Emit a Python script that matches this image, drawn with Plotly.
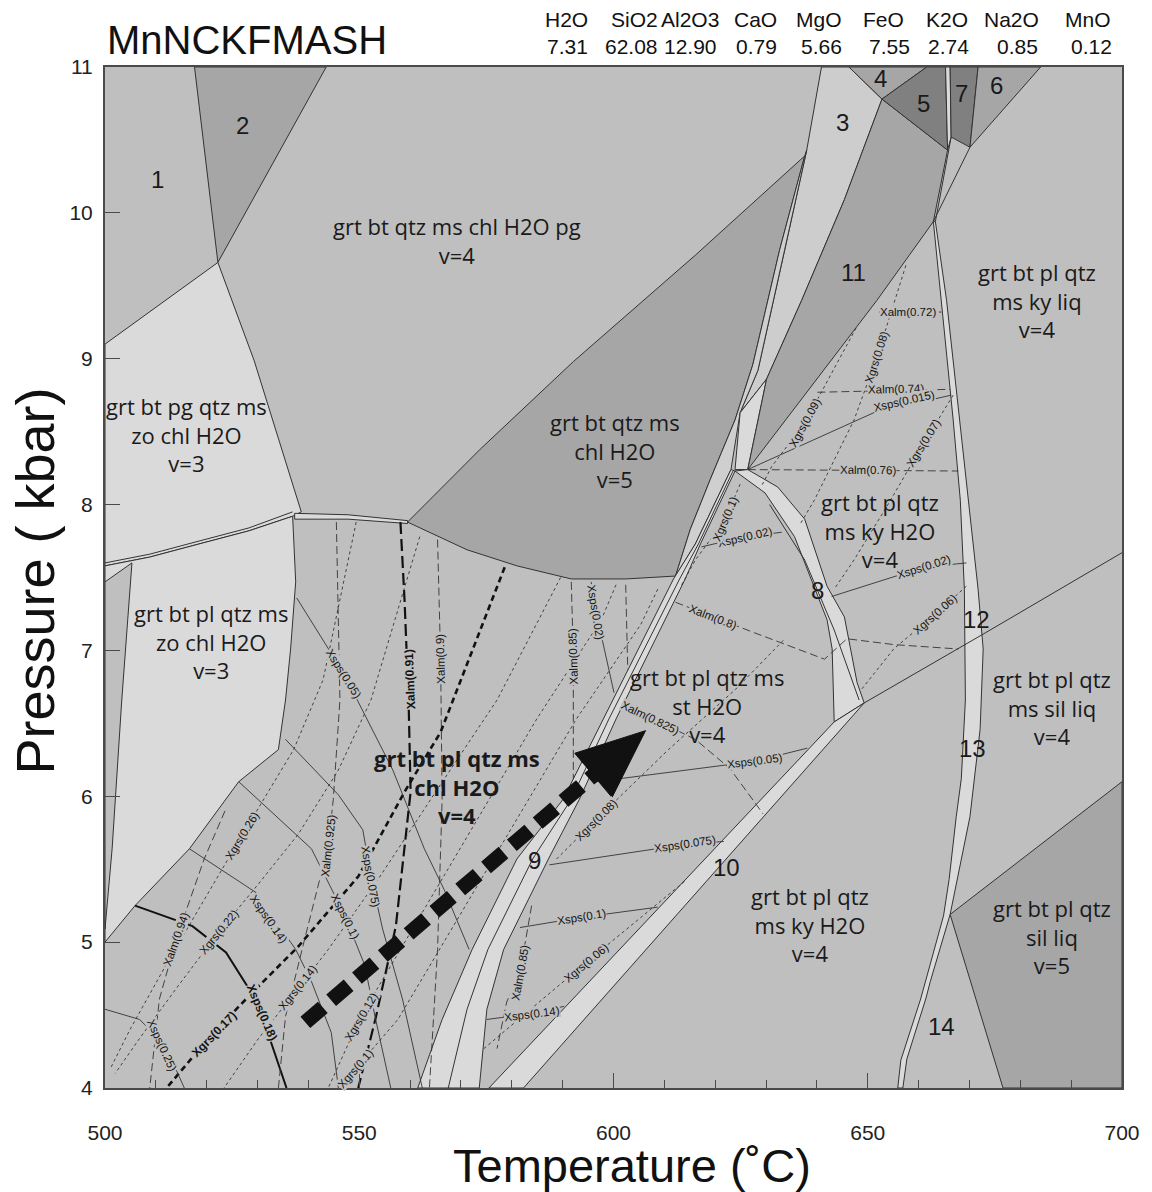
import math
import plotly.graph_objects as go

# ---------------- data ----------------
OXIDES = ["H2O", "SiO2", "Al2O3", "CaO", "MgO", "FeO", "K2O", "Na2O", "MnO"]
OXIDE_WT = ["7.31", "62.08", "12.90", "0.79", "5.66", "7.55", "2.74", "0.85", "0.12"]

T_RANGE = [500, 700]
P_RANGE = [4, 11]
T_TICKS = [500, 550, 600, 650, 700]
P_TICKS = [4, 5, 6, 7, 8, 9, 10, 11]

# phase-field polygons (T in C, P in kbar)
FIELD_2 = [(517.6, 11.0), (543.5, 11.0), (522.2, 9.66)]
FIELD_PG_ZO = [(500, 9.10), (522.2, 9.66), (529.3, 8.99), (534.1, 8.45), (538.6, 7.95),
               (536.9, 7.92), (528.3, 7.82), (518.5, 7.73), (508.8, 7.64), (500, 7.58)]
FIELD_PL_ZO = [(500, 7.58), (508.8, 7.64), (518.5, 7.73), (528.3, 7.82), (536.9, 7.92),
               (537.5, 7.47), (536.5, 7.01), (535.5, 6.66), (534.1, 6.32), (526.3, 6.10),
               (516.6, 5.64), (505.9, 5.25), (500, 5.00)]
FIELD_LEFT_STRIP = [(500, 7.47), (505.3, 7.60), (503.3, 6.66), (501.4, 5.64), (500, 5.09)]
SLIVER_TOP = [(537.3, 7.94), (547.8, 7.93), (559.5, 7.89), (559.5, 7.87), (547.8, 7.90), (537.3, 7.90)]
FIELD_V5 = [(559.5, 7.88), (573.8, 8.38), (592.1, 8.98), (616.1, 9.71), (637.6, 10.39),
            (632.7, 9.75), (627.4, 8.96), (623.9, 8.58), (619.0, 8.17), (615.1, 7.83),
            (612.2, 7.51), (602.4, 7.49), (591.7, 7.49), (581.0, 7.58), (571.2, 7.69)]
FIELD_3 = [(640.9, 11.0), (638.0, 10.43), (633.7, 9.75), (628.4, 8.92), (624.9, 8.63),
           (630.1, 8.86), (637.0, 9.40), (645.4, 10.09), (652.8, 10.78), (646.3, 11.0)]
WEDGE_3 = [(624.9, 8.63), (630.1, 8.86), (626.4, 8.24), (623.9, 8.24)]
SLIVER_A = [(637.6, 10.39), (632.7, 9.75), (627.4, 8.96), (623.9, 8.58), (619.0, 8.17),
            (615.1, 7.83), (612.2, 7.51), (616.1, 7.73), (623.1, 8.24), (624.9, 8.63),
            (628.4, 8.92), (633.7, 9.75), (638.0, 10.43)]
FIELD_11 = [(652.8, 10.78), (665.7, 10.43), (662.9, 9.94), (651.8, 9.40), (626.4, 8.24),
            (630.1, 8.86), (637.0, 9.40), (645.4, 10.09)]
FIELD_4 = [(646.3, 11.0), (661.6, 11.0), (652.8, 10.78)]
FIELD_5 = [(652.8, 10.78), (661.6, 11.0), (665.3, 11.0), (665.7, 10.43)]
SLIVER_B = [(665.3, 11.0), (666.2, 11.0), (666.4, 10.52), (665.7, 10.43)]
FIELD_7 = [(666.2, 11.0), (671.7, 11.0), (670.1, 10.45), (666.4, 10.52)]
FIELD_6 = [(671.7, 11.0), (684.0, 11.0), (670.1, 10.45)]
BAND_8 = [(623.9, 8.23), (629.8, 8.08), (635.6, 7.78), (638.9, 7.49), (642.0, 7.21),
          (643.0, 7.01), (643.4, 6.51), (649.3, 6.64), (647.9, 6.78), (645.4, 7.23),
          (642.0, 7.44), (637.6, 7.90), (632.3, 8.12), (626.4, 8.24)]
BAND_10 = [(643.4, 6.51), (649.3, 6.64), (582.3, 4.0), (575.5, 4.0)]
BAND_12 = [(662.9, 9.94), (664.5, 9.40), (666.8, 8.58), (668.2, 8.03), (669.0, 7.42),
           (669.2, 6.66), (668.4, 6.12), (667.4, 5.86), (666.0, 5.43), (664.9, 5.18),
           (660.4, 4.61), (656.5, 4.19), (655.9, 4.0), (656.9, 4.0), (657.7, 4.20),
           (661.4, 4.61), (662.3, 4.73), (666.2, 5.19), (670.1, 5.86), (672.1, 6.46),
           (672.7, 7.01), (671.7, 7.42), (669.8, 8.03), (668.0, 8.58), (665.5, 9.40),
           (663.3, 9.94)]
FIELD_SIL_V5 = [(666.2, 5.19), (700, 6.10), (700, 4.0), (676.6, 4.0)]
BAND_9 = [(623.1, 8.24), (616.1, 7.73), (611.8, 7.49), (597.9, 6.53), (590.1, 5.98),
          (581.0, 5.57), (572.2, 4.95), (566.3, 4.47), (561.5, 4.0), (573.6, 4.0),
          (575.1, 4.54), (578.4, 4.95), (587.2, 5.57), (593.3, 5.98), (600.5, 6.53),
          (614.1, 7.49), (617.1, 7.73), (623.9, 8.23)]

# extra field boundaries
LINE_KY_SIL = [(649.3, 6.64), (673.1, 7.12), (700, 7.67)]
LINE_PL_IN = [(500, 7.60), (508.8, 7.66), (518.5, 7.75), (528.3, 7.84), (536.9, 7.95)]
LINE_B9_IN = [(623.5, 8.23), (616.7, 7.73), (613.0, 7.49), (599.1, 6.53), (591.7, 5.98),
              (584.1, 5.57), (575.3, 4.95), (571.2, 4.54), (567.5, 4.0)]
LINE_B8_IN = [(630.7, 8.00), (637.6, 7.62), (643.4, 7.14), (648.3, 6.66)]
LINE_TRI_A = [(666.4, 10.52), (663.3, 9.94)]
LINE_TRI_B = [(670.1, 10.45), (662.9, 9.94)]

# isopleths
ISO_ALM_072 = [(652.2, 9.32), (664.5, 9.32)]
ISO_GRS_008U = [(657.5, 9.64), (651.8, 9.01), (647.3, 8.58), (639.5, 8.03), (636.6, 7.86)]
ISO_ALM_074 = [(640.1, 8.77), (666.2, 8.79)]
ISO_GRS_009 = [(647.7, 9.21), (637.6, 8.56), (631.1, 8.26), (629.0, 8.12)]
ISO_SPS_0015 = [(626.4, 8.24), (651.2, 8.63), (666.4, 8.75)]
ISO_GRS_007 = [(666.8, 8.75), (661.0, 8.42), (653.8, 7.99), (647.3, 7.62), (643.4, 7.42)]
ISO_ALM_076 = [(626.4, 8.24), (667.8, 8.23)]
ISO_SPS_002R = [(642.9, 7.37), (661.0, 7.57), (669.4, 7.60)]
ISO_GRS_006U = [(669.4, 7.44), (663.3, 7.25), (655.1, 7.01), (648.7, 6.73)]
ISO_ALM_080 = [(612.2, 7.33), (619.6, 7.23), (627.8, 7.12), (641.5, 6.94), (645.9, 7.08),
               (655.1, 7.04), (667.8, 7.01)]
ISO_SPS_002L = [(617.3, 7.71), (625.9, 7.78), (633.1, 7.81)]
ISO_GRS_010U = [(624.9, 8.14), (622.0, 7.90), (616.1, 7.62), (613.4, 7.45)]
ISO_ALM_0825 = [(602.0, 6.63), (607.3, 6.54), (616.1, 6.39), (622.9, 6.19), (629.4, 5.88)]
ISO_SPS_005S = [(596.6, 6.10), (612.2, 6.17), (627.8, 6.24), (638.1, 6.33)]
ISO_GRS_008S = [(588.8, 5.57), (596.6, 5.84), (610.8, 6.32), (623.9, 6.73), (633.7, 7.08)]
ISO_SPS_0075S = [(587.4, 5.53), (614.1, 5.67), (621.7, 5.69)]
ISO_SPS_010S = [(581.6, 5.10), (593.7, 5.17), (608.7, 5.24)]
ISO_GRS_006S = [(574.5, 4.27), (594.6, 4.86), (614.1, 5.42)]
ISO_SPS_014S = [(575.1, 4.47), (583.9, 4.51), (590.3, 4.56)]
ISO_ALM_085S = [(583.9, 5.25), (581.6, 4.79), (579.0, 4.59), (577.1, 4.27)]
ISO_ALM_090 = [(565.4, 7.76), (566.0, 6.94), (566.3, 5.98), (565.4, 4.95), (563.8, 4.0)]
ISO_ALM_085C = [(591.7, 7.47), (592.1, 6.96), (592.1, 6.12)]
ISO_SPS_002C = [(595.6, 7.47), (596.6, 7.26), (600.1, 6.71)]
ISO_ALM_X = [(602.4, 7.45), (602.8, 6.87)]
ISO_ALM_091 = [(558.1, 7.88), (558.9, 7.35), (559.7, 6.66), (560.1, 6.03), (557.2, 5.11),
               (555.6, 4.86), (553.3, 4.49), (549.8, 4.0)]
ISO_GRS_017 = [(578.6, 7.57), (566.0, 6.44), (558.9, 6.03), (549.8, 5.45), (538.0, 4.97),
               (528.3, 4.63), (521.1, 4.37), (512.1, 4.0)]
ISO_SPS_018 = [(505.9, 5.25), (517.2, 5.11), (523.8, 4.93), (528.3, 4.68), (532.2, 4.36),
               (535.7, 4.0)]
ISO_SPS_025 = [(500, 4.54), (506.8, 4.47), (511.7, 4.30), (515.6, 4.0)]
ISO_SPS_014C = [(516.6, 5.64), (529.7, 5.34), (537.5, 4.95), (540.6, 4.73), (544.5, 4.38),
                (545.9, 4.0)]
ISO_SPS_010C = [(526.3, 6.10), (540.6, 5.64), (547.2, 5.18), (551.1, 4.84), (553.1, 4.49),
                (556.2, 4.0)]
ISO_SPS_0075C = [(535.5, 6.39), (545.9, 6.01), (550.7, 5.77), (552.3, 5.45), (554.6, 5.09),
                 (558.5, 4.61), (562.4, 4.0)]
ISO_SPS_005C = [(537.7, 7.36), (547.0, 6.84), (556.6, 6.18), (562.8, 5.64), (566.7, 5.36),
                (571.6, 4.95)]
ISO_ALM_0925 = [(545.5, 7.88), (546.2, 6.66), (544.9, 5.98), (543.9, 5.66), (539.4, 5.04),
                (535.5, 4.49), (534.1, 4.0)]
ISO_ALM_094 = [(523.6, 5.90), (519.5, 5.57), (514.0, 5.02), (510.7, 4.61), (508.8, 4.0)]
ISO_GRS_026 = [(549.4, 7.88), (542.9, 6.80), (537.1, 6.32), (526.9, 5.73), (519.5, 5.29),
               (512.1, 4.85), (504.9, 4.40), (501.0, 4.13)]
ISO_GRS_022 = [(561.9, 7.78), (552.3, 6.66), (545.9, 6.18), (538.0, 5.74), (530.2, 5.40),
               (522.4, 5.07), (514.6, 4.71), (506.8, 4.34), (502.0, 4.10)]
ISO_GRS_014 = [(589.6, 7.50), (577.1, 6.66), (565.4, 6.05), (553.7, 5.43), (543.9, 4.95),
               (538.6, 4.71), (530.2, 4.34), (523.4, 4.0)]
ISO_GRS_012 = [(600.5, 7.45), (597.6, 7.21), (584.9, 6.53), (573.2, 5.84), (561.5, 5.16),
               (550.3, 4.49), (543.9, 4.0)]
ISO_GRS_010C = [(608.7, 7.42), (605.4, 7.18), (592.7, 6.53), (581.0, 5.84), (569.3, 5.16),
                (557.6, 4.47), (549.2, 4.13), (546.8, 4.0)]

# P-T path (start -> arrow tip)
PATH_T = [539.4, 606.3]
PATH_P = [4.45, 6.45]

# ---------------- styling ----------------
W, H = 1152, 1192
ML, MR, MT, MB = 105, 22, 67, 104
PW, PH = W - ML - MR, H - MT - MB
KX = PW / (T_RANGE[1] - T_RANGE[0])
KY = PH / (P_RANGE[1] - P_RANGE[0])

C_MID = "#bfbfbf"
C_LIGHT = "#dadada"
C_DARK = "#a6a6a6"
C_DARKEST = "#808080"
C_F3 = "#cdcdcd"
EDGE = "#333333"
ISO = "#333333"

LABEL_FONT = "Open Sans, Noto Sans, sans-serif"
ARIAL = "Liberation Sans, Arial, sans-serif"

fields = [
    (FIELD_2, C_DARK), (FIELD_PG_ZO, C_LIGHT), (FIELD_PL_ZO, C_LIGHT),
    (FIELD_LEFT_STRIP, C_MID), (SLIVER_TOP, C_LIGHT), (FIELD_V5, C_DARK),
    (FIELD_3, C_F3), (SLIVER_A, "#cfcfcf"), (WEDGE_3, C_LIGHT), (FIELD_11, C_DARK),
    (FIELD_4, C_DARK), (FIELD_5, C_DARKEST), (SLIVER_B, C_LIGHT), (FIELD_7, C_DARKEST),
    (FIELD_6, C_DARK), (BAND_8, C_LIGHT), (BAND_10, C_LIGHT), (BAND_12, C_LIGHT),
    (FIELD_SIL_V5, C_DARK), (BAND_9, C_LIGHT),
]
boundaries = [LINE_KY_SIL, LINE_PL_IN, LINE_B9_IN, LINE_B8_IN, LINE_TRI_A, LINE_TRI_B]

ALM = dict(dash="8px,4px", width=0.9, color=ISO)
GRS = dict(dash="3px,3px", width=0.9, color=ISO)
SPS = dict(dash="solid", width=0.9, color=ISO)
ALM_B = dict(dash="12px,5px", width=2.2, color="#111111")
GRS_B = dict(dash="6px,4px", width=2.6, color="#111111")
SPS_B = dict(dash="solid", width=2.0, color="#111111")

# (points, style, label, label T, label P, bold, flip)
isopleths = [
    (ISO_ALM_072, ALM, "Xalm(0.72)", 658.0, 9.32, False, False),
    (ISO_GRS_008U, GRS, "Xgrs(0.08)", 651.8, 9.01, False, False),
    (ISO_ALM_074, ALM, "Xalm(0.74)", 655.5, 8.79, False, False),
    (ISO_GRS_009, GRS, "Xgrs(0.09)", 637.6, 8.56, False, False),
    (ISO_SPS_0015, SPS, "Xsps(0.015)", 657.1, 8.71, False, False),
    (ISO_GRS_007, GRS, "Xgrs(0.07)", 661.0, 8.42, False, False),
    (ISO_ALM_076, ALM, "Xalm(0.76)", 650.0, 8.24, False, False),
    (ISO_SPS_002R, SPS, "Xsps(0.02)", 661.0, 7.57, False, False),
    (ISO_GRS_006U, GRS, "Xgrs(0.06)", 663.3, 7.25, False, False),
    (ISO_ALM_080, ALM, "Xalm(0.8)", 619.6, 7.23, False, False),
    (ISO_SPS_002L, SPS, "Xsps(0.02)", 625.9, 7.78, False, False),
    (ISO_GRS_010U, GRS, "Xgrs(0.1)", 622.0, 7.90, False, False),
    (ISO_ALM_0825, ALM, "Xalm(0.825)", 607.3, 6.54, False, False),
    (ISO_SPS_005S, SPS, "Xsps(0.05)", 627.8, 6.24, False, False),
    (ISO_GRS_008S, GRS, "Xgrs(0.08)", 596.6, 5.84, False, False),
    (ISO_SPS_0075S, SPS, "Xsps(0.075)", 614.1, 5.67, False, False),
    (ISO_SPS_010S, SPS, "Xsps(0.1)", 593.7, 5.17, False, False),
    (ISO_GRS_006S, GRS, "Xgrs(0.06)", 594.6, 4.86, False, False),
    (ISO_SPS_014S, SPS, "Xsps(0.14)", 583.9, 4.51, False, False),
    (ISO_ALM_085S, ALM, "Xalm(0.85)", 581.6, 4.79, False, False),
    (ISO_ALM_090, ALM, "Xalm(0.9)", 566.0, 6.94, False, True),
    (ISO_ALM_085C, ALM, "Xalm(0.85)", 592.1, 6.96, False, True),
    (ISO_SPS_002C, SPS, "Xsps(0.02)", 596.6, 7.26, False, False),
    (ISO_ALM_X, ALM, None, 0, 0, False, False),
    (ISO_ALM_091, ALM_B, "Xalm(0.91)", 559.9, 6.80, True, True),
    (ISO_GRS_017, GRS_B, "Xgrs(0.17)", 521.5, 4.37, True, False),
    (ISO_SPS_018, SPS_B, "Xsps(0.18)", 530.8, 4.52, True, False),
    (ISO_SPS_025, SPS, "Xsps(0.25)", 511.3, 4.29, False, False),
    (ISO_SPS_014C, SPS, "Xsps(0.14)", 532.2, 5.16, False, False),
    (ISO_SPS_010C, SPS, "Xsps(0.1)", 547.2, 5.18, False, False),
    (ISO_SPS_0075C, SPS, "Xsps(0.075)", 552.3, 5.45, False, False),
    (ISO_SPS_005C, SPS, "Xsps(0.05)", 547.0, 6.84, False, False),
    (ISO_ALM_0925, ALM, "Xalm(0.925)", 543.9, 5.66, False, False),
    (ISO_ALM_094, ALM, "Xalm(0.94)", 514.0, 5.02, False, False),
    (ISO_GRS_026, GRS, "Xgrs(0.26)", 526.9, 5.73, False, False),
    (ISO_GRS_022, GRS, "Xgrs(0.22)", 522.4, 5.07, False, False),
    (ISO_GRS_014, GRS, "Xgrs(0.14)", 538.0, 4.69, False, False),
    (ISO_GRS_012, GRS, "Xgrs(0.12)", 550.3, 4.49, False, False),
    (ISO_GRS_010C, GRS, "Xgrs(0.1)", 549.2, 4.13, False, False),
]

# field labels: (text, T, P, size, bold, font)
field_labels = [
    ("1", 510.4, 10.23, 24, False, ARIAL), ("2", 527.0, 10.60, 24, False, ARIAL),
    ("3", 645.0, 10.62, 24, False, ARIAL), ("4", 652.6, 10.92, 24, False, ARIAL),
    ("5", 661.0, 10.75, 24, False, ARIAL), ("7", 668.4, 10.82, 24, False, ARIAL),
    ("6", 675.3, 10.87, 24, False, ARIAL), ("11", 647.1, 9.59, 24, False, ARIAL),
    ("8", 640.2, 7.41, 24, False, ARIAL), ("12", 671.3, 7.21, 24, False, ARIAL),
    ("13", 670.6, 6.33, 24, False, ARIAL), ("9", 584.5, 5.56, 24, False, ARIAL),
    ("10", 622.3, 5.51, 24, False, ARIAL), ("14", 664.5, 4.42, 24, False, ARIAL),
    ("grt bt qtz ms chl H2O pg<br>v=4", 569.3, 9.81, 22, False, LABEL_FONT),
    ("grt bt pl qtz<br>ms ky liq<br>v=4", 683.3, 9.40, 22, False, LABEL_FONT),
    ("grt bt pg qtz ms<br>zo chl H2O<br>v=3", 516.0, 8.48, 22, False, LABEL_FONT),
    ("grt bt qtz ms<br>chl H2O<br>v=5", 600.2, 8.37, 22, False, LABEL_FONT),
    ("grt bt pl qtz<br>ms ky H2O<br>v=4", 652.4, 7.82, 22, False, LABEL_FONT),
    ("grt bt pl qtz ms<br>zo chl H2O<br>v=3", 520.9, 7.06, 22, False, LABEL_FONT),
    ("grt bt pl qtz ms<br>st H2O<br>v=4", 618.4, 6.62, 22, False, LABEL_FONT),
    ("grt bt pl qtz<br>ms sil liq<br>v=4", 686.2, 6.61, 22, False, LABEL_FONT),
    ("grt bt pl qtz ms<br>chl H2O<br>v=4", 569.3, 6.07, 22, True, LABEL_FONT),
    ("grt bt pl qtz<br>ms ky H2O<br>v=4", 638.7, 5.12, 22, False, LABEL_FONT),
    ("grt bt pl qtz<br>sil liq<br>v=5", 686.2, 5.04, 22, False, LABEL_FONT),
]


def closed(pts):
    return [p[0] for p in pts] + [pts[0][0]], [p[1] for p in pts] + [pts[0][1]]


def label_angle(pts, t, p, flip):
    best, seg = None, None
    px, py = t * KX, p * KY
    for a, b in zip(pts[:-1], pts[1:]):
        ax_, ay_ = a[0] * KX, a[1] * KY
        bx_, by_ = b[0] * KX, b[1] * KY
        dx, dy = bx_ - ax_, by_ - ay_
        L2 = dx * dx + dy * dy or 1e-9
        u = max(0.0, min(1.0, ((px - ax_) * dx + (py - ay_) * dy) / L2))
        d = math.hypot(ax_ + u * dx - px, ay_ + u * dy - py)
        if best is None or d < best:
            best, seg = d, (dx, dy)
    ang = math.degrees(math.atan2(-seg[1], seg[0]))
    while ang > 90:
        ang -= 180
    while ang <= -90:
        ang += 180
    if flip:
        ang = ang - 180 if ang > 0 else ang + 180
    return ang


fig = go.Figure()

for pts, col in fields:
    xs, ys = closed(pts)
    fig.add_trace(go.Scatter(x=xs, y=ys, mode="lines", fill="toself", fillcolor=col,
                             line=dict(color=EDGE, width=1), hoverinfo="skip", showlegend=False))

for pts in boundaries:
    fig.add_trace(go.Scatter(x=[p[0] for p in pts], y=[p[1] for p in pts], mode="lines",
                             line=dict(color=EDGE, width=1), hoverinfo="skip", showlegend=False))

annotations = []
for pts, st, lab, lt, lp, bold, flip in isopleths:
    fig.add_trace(go.Scatter(x=[p[0] for p in pts], y=[p[1] for p in pts], mode="lines",
                             line=dict(color=st["color"], width=st["width"], dash=st["dash"]),
                             hoverinfo="skip", showlegend=False))
    if lab:
        ang = label_angle(pts, lt, lp, flip)
        annotations.append(dict(x=lt, y=lp, xref="x", yref="y", showarrow=False,
                                text=f"<b>{lab}</b>" if bold else lab, textangle=ang,
                                font=dict(family=ARIAL, size=12 if bold else 11.5, color="#141414"),
                                bgcolor=C_MID, borderpad=0))

# P-T path arrow: dashed shaft + triangular head computed in screen space
sx, sy = PATH_T[0] * KX, PATH_P[0] * KY
tx, ty = PATH_T[-1] * KX, PATH_P[-1] * KY
dlen = math.hypot(tx - sx, ty - sy)
ux, uy = (tx - sx) / dlen, (ty - sy) / dlen
HEAD_L, HEAD_W = 69.0, 29.0
bx, by = tx - HEAD_L * ux, ty - HEAD_L * uy
nx, ny = -uy, ux
head_T = [tx / KX, (bx + HEAD_W * nx) / KX, (bx - HEAD_W * nx) / KX, tx / KX]
head_P = [ty / KY, (by + HEAD_W * ny) / KY, (by - HEAD_W * ny) / KY, ty / KY]
fig.add_trace(go.Scatter(x=[PATH_T[0], (bx + 4 * ux) / KX], y=[PATH_P[0], (by + 4 * uy) / KY],
                         mode="lines", line=dict(color="#111111", width=15, dash="23px,11px"),
                         hoverinfo="skip", showlegend=False))
fig.add_trace(go.Scatter(x=head_T, y=head_P, mode="lines", fill="toself", fillcolor="#111111",
                         line=dict(color="#111111", width=1), hoverinfo="skip", showlegend=False))

for text, t, p, size, bold, fam in field_labels:
    annotations.append(dict(x=t, y=p, xref="x", yref="y", showarrow=False,
                            text=f"<b>{text}</b>" if bold else text, align="center",
                            font=dict(family=fam, size=size, color="#1a1a1a")))


# title and bulk composition (positions given in page pixels, converted to paper units)
def paper_x(px):
    return (px - ML) / PW


def paper_y(py):
    return (MT + PH - py) / PH


annotations.append(dict(x=0, y=paper_y(40), xref="paper", yref="paper",
                        xanchor="left", yanchor="middle", showarrow=False, text="MnNCKFMASH",
                        font=dict(family=ARIAL, size=40, color="#111111")))
HEAD_RIGHT = [594, 664, 726, 784, 850, 912, 977, 1048, 1121]
VAL_RIGHT = [594, 664, 724, 784, 850, 918, 978, 1047, 1122]
for name, val, hr, vr in zip(OXIDES, OXIDE_WT, HEAD_RIGHT, VAL_RIGHT):
    annotations.append(dict(x=paper_x(hr), y=paper_y(20), xref="paper", yref="paper",
                            xanchor="right", yanchor="middle", showarrow=False,
                            text=name, font=dict(family=ARIAL, size=21, color="#111111")))
    annotations.append(dict(x=paper_x(vr), y=paper_y(46), xref="paper", yref="paper",
                            xanchor="right", yanchor="middle", showarrow=False,
                            text=val, font=dict(family=ARIAL, size=21, color="#111111")))

# axis titles
annotations.append(dict(x=paper_x(636), y=paper_y(1165), xref="paper", yref="paper",
                        xanchor="center", yanchor="middle", showarrow=False,
                        text="Temperature (˚C)", font=dict(family=ARIAL, size=47, color="#111111")))
annotations.append(dict(x=paper_x(34), y=paper_y(581), xref="paper", yref="paper",
                        xanchor="center", yanchor="middle", showarrow=False, textangle=-90,
                        text="Pressure ( kbar)", font=dict(family=ARIAL, size=54, color="#111111")))

axis_common = dict(showgrid=False, zeroline=False, showline=True, linecolor="#4a4a4a",
                   linewidth=2, mirror=True, ticks="inside", ticklen=15, tickwidth=1.3,
                   tickcolor="#4a4a4a", tickfont=dict(family=ARIAL, size=21, color="#222222"))
fig.update_xaxes(range=T_RANGE, tickvals=T_TICKS, ticklabelstandoff=25,
                 minor=dict(dtick=10, ticks="inside", ticklen=8, tickcolor="#4a4a4a", tickwidth=1),
                 **axis_common)
fig.update_yaxes(range=P_RANGE, tickvals=P_TICKS, ticklabelstandoff=6, **axis_common)

fig.update_layout(width=W, height=H, margin=dict(l=ML, r=MR, t=MT, b=MB),
                  paper_bgcolor="white", plot_bgcolor=C_MID, showlegend=False,
                  annotations=annotations)

fig.write_html("out.html")
